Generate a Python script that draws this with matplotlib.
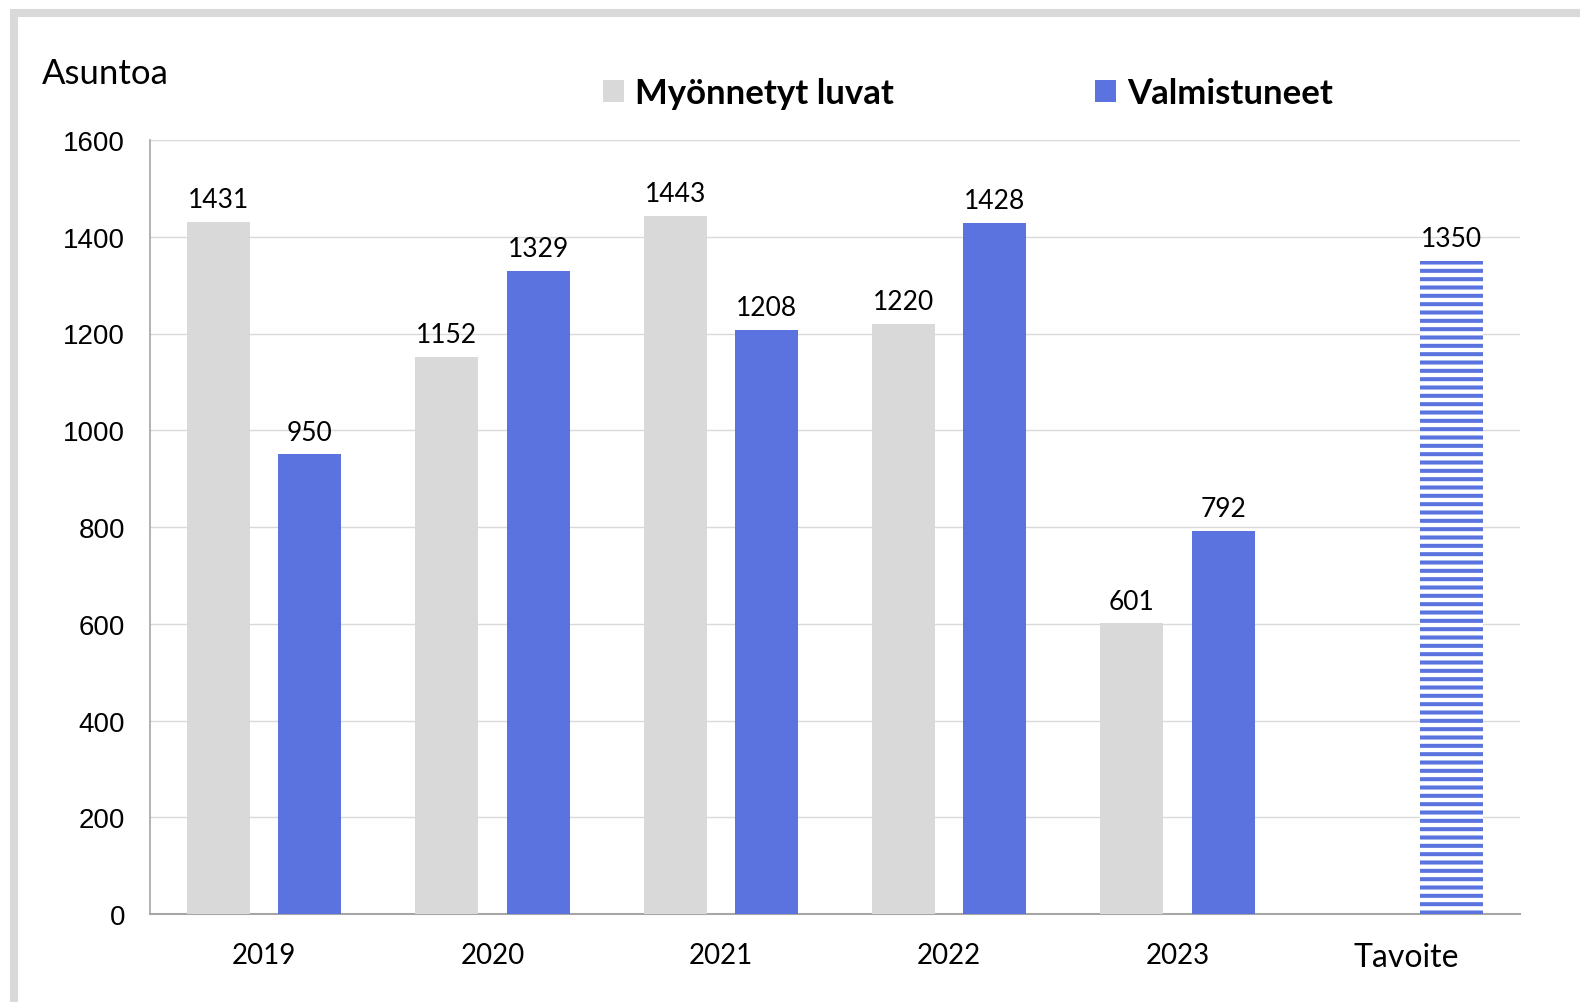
import matplotlib
matplotlib.use('Agg')
import matplotlib.pyplot as plt
from matplotlib import rcParams, patches
import numpy as np

# Data
kategoriat = ['2019', '2020', '2021', '2022', '2023', 'Tavoite']
luvat = [1431, 1152, 1443, 1220, 601]
valmistuneet = [950, 1329, 1208, 1428, 792]
tavoite = [1350]
yticks = [0, 200, 400, 600, 800, 1000, 1200, 1400, 1600]

harmaa = '#D9D9D9'
sininen = '#5A73DE'
lblfont = 'Lato'

rcParams['hatch.linewidth'] = 2.9

fig = plt.figure(figsize=(15.8, 10.03), dpi=100)
ax = fig.add_axes([150/1580, 1-915/1003, 1370/1580, 774/1003])

x = np.arange(len(kategoriat))
w = 0.276
b1 = ax.bar(x[:5] - 0.2, luvat, w, color=harmaa, label='Myönnetyt luvat', zorder=3)
b2 = ax.bar(x[:5] + 0.2, valmistuneet, w, color=sininen, label='Valmistuneet', zorder=3)
b3 = ax.bar(x[5:] + 0.2, tavoite, w, facecolor='white', edgecolor=sininen,
            linewidth=0, hatch='--', zorder=3)

for bars in (b1, b2, b3):
    ax.bar_label(bars, padding=7, fontsize=19, family=lblfont)

ax.set_xlim(-0.5, 5.5)
ax.set_ylim(0, 1600)
ax.set_yticks(yticks)
ax.set_yticklabels([str(v) for v in yticks], family='Liberation Sans', fontsize=20)
ax.set_xticks(x)
ax.set_xticklabels(kategoriat, family=lblfont, fontsize=20)
ax.get_xticklabels()[5].set_fontsize(23)
ax.tick_params(axis='both', length=0)
ax.tick_params(axis='y', pad=18)
ax.tick_params(axis='x', pad=20)

ax.grid(axis='y', color=harmaa, linewidth=1, zorder=0)
for s in ['top', 'right']:
    ax.spines[s].set_visible(False)
ax.spines['left'].set_color('#A6A6A6')
ax.spines['bottom'].set_color('#A6A6A6')
ax.spines['left'].set_linewidth(1.2)
ax.spines['bottom'].set_linewidth(1.5)

# Legend
fig.legend(handles=[b1, b2], loc='center left', bbox_to_anchor=(603/1580, 1-94/1003),
           ncol=2, frameon=False, handlelength=0.6, handleheight=0.6,
           handletextpad=0.32, columnspacing=5.8, borderaxespad=0, borderpad=0,
           prop={'family': lblfont, 'weight': 'bold', 'size': 25})

fig.text(42/1580, 1-74/1003, 'Asuntoa', fontsize=25, family=lblfont, va='center')

# Grey frame (only top and left edges visible)
fig.add_artist(patches.Rectangle((14/1580, -0.1), 2, 1-13.5/1003+0.1,
                                 transform=fig.transFigure, fill=False,
                                 ec=harmaa, lw=5.8))

plt.savefig('out.png', dpi=100)
